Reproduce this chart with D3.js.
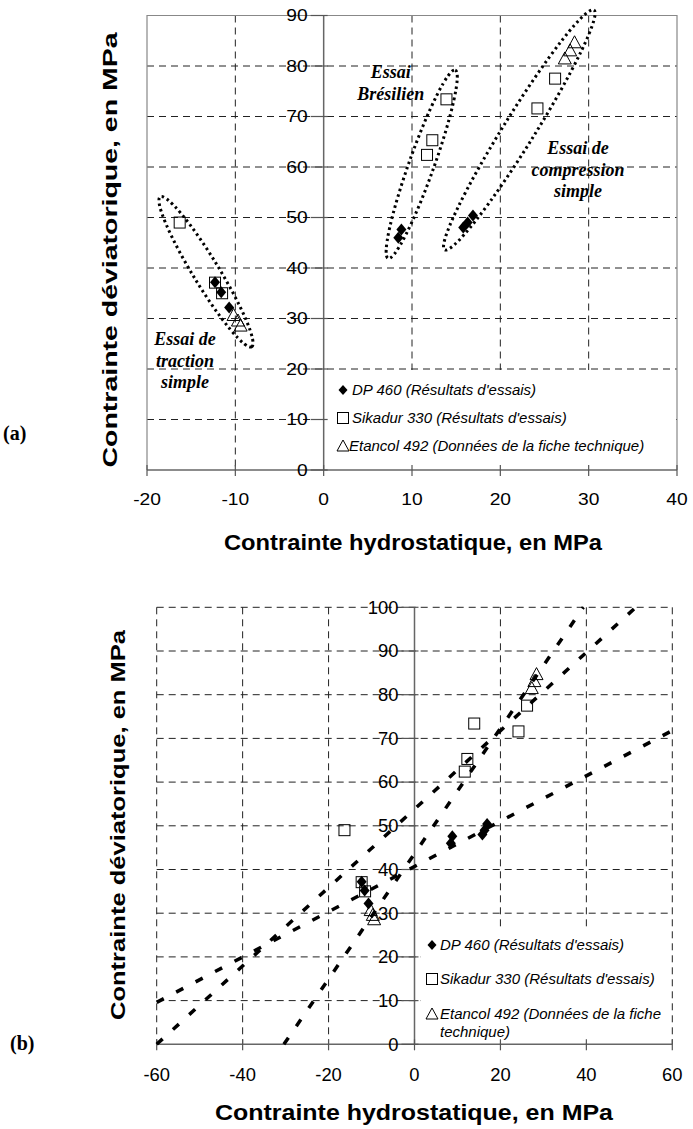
<!DOCTYPE html>
<html><head><meta charset="utf-8">
<script src="https://cdn.jsdelivr.net/npm/d3@7"></script>
<style>body{margin:0;background:#fff} svg{display:block}</style>
</head><body>
<svg id="chart" width="693" height="1129"></svg>
<script>
// ---------- data ----------
const dp460X = [-12.3, -11.6, -10.7, 8.45, 8.8, 15.8, 16.3, 16.9];
const dp460Y = [37.2, 35.2, 32.2, 46.0, 47.6, 48.0, 49.0, 50.4];
const sikaX = [-16.3, -12.3, -11.5, 11.7, 12.3, 13.9, 24.2, 26.2];
const sikaY = [49.0, 37.1, 35.0, 62.4, 65.3, 73.4, 71.6, 77.5];
const etanX = [-10.2, -9.7, -9.4, 27.3, 27.9, 28.4];
const etanY = [30.6, 29.5, 28.5, 81.4, 83.0, 84.6];

const xTicksA = [-20, -10, 0, 10, 20, 30, 40];
const yTicksA = [0, 10, 20, 30, 40, 50, 60, 70, 80, 90];
const xTicksB = [-60, -40, -20, 0, 20, 40, 60];
const yTicksB = [0, 10, 20, 30, 40, 50, 60, 70, 80, 90, 100];

const legendLabels = ["DP 460 (Résultats d'essais)", "Sikadur 330 (Résultats d'essais)", "Etancol 492 (Données de la fiche technique)"];
const xTitle = "Contrainte hydrostatique, en MPa";
const yTitle = "Contrainte déviatorique, en MPa";

// ellipse envelopes of panel (a): tips in data units
const ellipseNames = ["traction", "bresilien", "compression"];
const ellipseTip1 = [[-18.5, 54.1], [7.3, 41.9], [13.7, 43.6]];
const ellipseTip2 = [[-8.15, 24.4], [14.9, 79.2], [30.6, 91.1]];
const annotTexts = [["Essai de", "traction", "simple"], ["Essai", "Brésilien"], ["Essai de", "compression", "simple"]];
const annotPos = [[-15.7, 26.0], [7.6, 78.9], [28.8, 63.8]];

// dashed envelope lines of panel (b)
const lineStartX = [-30.4, -60, -60];
const lineStartY = [0, 0, 9.6];
const lineEndX = [39.3, 51.5, 60];
const lineEndY = [100, 100, 71.8];

// ---------- drawing ----------
const svg = d3.select('#chart');
const FONT = "Arial, 'Liberation Sans', sans-serif";
const SERIF = "'Times New Roman', 'Liberation Serif', serif";

function seriesPts(xs, ys) { return xs.map((x, i) => ({x, y: ys[i]})); }
function stretch(sel, f) {
  if (f === 1) return;
  sel.each(function() { const w = this.getComputedTextLength();
    d3.select(this).attr('textLength', w * f).attr('lengthAdjust', 'spacingAndGlyphs'); });
}

function drawMarkers(g, x, y) {
  const dia = d => { const cx = x(d.x), cy = y(d.y);
    return `M${cx},${cy-6}L${cx+5},${cy}L${cx},${cy+6}L${cx-5},${cy}Z`; };
  g.selectAll('.dp').data(seriesPts(dp460X, dp460Y)).join('path')
    .attr('d', dia).attr('fill', '#000');
  g.selectAll('.sk').data(seriesPts(sikaX, sikaY)).join('rect')
    .attr('x', d => x(d.x) - 5.5).attr('y', d => y(d.y) - 5.5)
    .attr('width', 11).attr('height', 11)
    .attr('fill', 'none').attr('stroke', '#000').attr('stroke-width', 1);
  const tri = d => { const cx = x(d.x), cy = y(d.y);
    return `M${cx},${cy-7}L${cx+6.5},${cy+5}L${cx-6.5},${cy+5}Z`; };
  g.selectAll('.et').data(seriesPts(etanX, etanY)).join('path')
    .attr('d', tri).attr('fill', 'none').attr('stroke', '#000').attr('stroke-width', 1);
}

function drawPanel(o) {
  const g = svg.append('g');
  const x = d3.scaleLinear().domain(o.xd).range(o.xr);
  const y = d3.scaleLinear().domain(o.yd).range(o.yr);
  const x0 = x(0), y0 = y(0);
  const dash = '7,5';
  g.selectAll('.hg').data(o.yTicks.filter(v => v !== 0 && (o.dashBorder || v !== o.yd[1]))).join('line')
    .attr('x1', o.xr[0]).attr('x2', o.xr[1]).attr('y1', d => y(d)).attr('y2', d => y(d))
    .attr('stroke', '#222').attr('stroke-width', 1).attr('stroke-dasharray', dash);
  g.selectAll('.vg').data(o.xTicks.filter(v => v !== 0 && (o.dashBorder || (v !== o.xd[0] && v !== o.xd[1])))).join('line')
    .attr('y1', o.yr[1]).attr('y2', o.yr[0]).attr('x1', d => x(d)).attr('x2', d => x(d))
    .attr('stroke', '#222').attr('stroke-width', 1).attr('stroke-dasharray', dash);
  if (!o.dashBorder) {
    g.append('path').attr('d', `M${o.xr[0]},${y0}V${o.yr[1]}H${o.xr[1]}V${y0}`)
      .attr('fill', 'none').attr('stroke', '#888').attr('stroke-width', 1.2);
  }
  g.append('rect').attr('x', o.leg.x).attr('y', o.leg.y).attr('width', o.leg.w).attr('height', o.leg.h).attr('fill', '#fff');
  g.append('line').attr('x1', x0).attr('x2', x0).attr('y1', o.yr[1]).attr('y2', y0).attr('stroke', '#666').attr('stroke-width', 1.5);
  g.append('line').attr('x1', o.xr[0]).attr('x2', o.xr[1]).attr('y1', y0).attr('y2', y0).attr('stroke', '#666').attr('stroke-width', 1.5);
  g.selectAll('.yt').data(o.yTicks).join('line')
    .attr('x1', x0 - 13).attr('x2', x0 + 4).attr('y1', d => y(d)).attr('y2', d => y(d))
    .attr('stroke', '#555').attr('stroke-width', 1.2);
  g.selectAll('.xt').data(o.xTicks).join('line')
    .attr('x1', d => x(d)).attr('x2', d => x(d)).attr('y1', y0 - 5).attr('y2', y0 + 6)
    .attr('stroke', '#555').attr('stroke-width', 1.2);
  const yl = g.selectAll('.yl').data(o.yTicks).join('text')
    .attr('x', x0 - 16).attr('y', d => y(d)).attr('dy', '0.36em')
    .attr('text-anchor', 'end').attr('font-family', FONT).attr('font-size', o.tickFont).text(d => d);
  const xl = g.selectAll('.xl').data(o.xTicks).join('text')
    .attr('x', d => x(d)).attr('y', y0 + o.xLabOff).attr('dy', '0.36em')
    .attr('text-anchor', 'middle').attr('font-family', FONT).attr('font-size', o.tickFont).text(d => d);
  stretch(yl, o.tickStretch); stretch(xl, o.tickStretch);
  g.append('text').attr('x', o.xTitle[0]).attr('y', o.xTitle[1]).attr('dy', '0.36em')
    .attr('text-anchor', 'middle').attr('font-family', FONT).attr('font-weight', 'bold')
    .attr('font-size', 22).attr('textLength', o.xTitle[2]).attr('lengthAdjust', 'spacingAndGlyphs').text(xTitle);
  g.append('text').attr('transform', `translate(${o.yTitle[0]},${o.yTitle[1]}) rotate(-90)`)
    .attr('text-anchor', 'middle').attr('font-family', FONT).attr('font-weight', 'bold')
    .attr('font-size', 21).attr('textLength', o.yTitle[2]).attr('lengthAdjust', 'spacingAndGlyphs').text(yTitle);
  g.append('text').attr('x', o.tag[0]).attr('y', o.tag[1]).attr('font-family', SERIF).attr('font-weight', 'bold')
    .attr('font-size', 20).text(o.tag[2]);
  const lg = g.append('g');
  o.legRows.forEach((ry, i) => {
    const mx = o.leg.mx;
    if (i === 0) lg.append('path').attr('d', `M${mx},${ry-5}L${mx+4.5},${ry}L${mx},${ry+5}L${mx-4.5},${ry}Z`).attr('fill', '#000');
    if (i === 1) lg.append('rect').attr('x', mx - 5.5).attr('y', ry - 5.5).attr('width', 11).attr('height', 11).attr('fill', 'none').attr('stroke', '#000');
    if (i === 2) lg.append('path').attr('d', `M${mx},${ry-6}L${mx+6},${ry+5}L${mx-6},${ry+5}Z`).attr('fill', 'none').attr('stroke', '#000');
  });
  o.legTexts.forEach((t) => {
    lg.append('text').attr('x', o.leg.tx + (t.indent || 0)).attr('y', t.y).attr('dy', '0.36em')
      .attr('font-family', FONT).attr('font-style', 'italic').attr('font-size', 15).text(t.s);
  });
  return {g, x, y};
}

// ---------- panel (a) ----------
const A = drawPanel({
  xd: [-20, 40], xr: [147, 677], yd: [0, 90], yr: [470, 15.5],
  xTicks: xTicksA, yTicks: yTicksA, dashBorder: false, tickFont: 16, tickStretch: 1.2, xLabOff: 29,
  leg: {x: 326, y: 370, w: 350, h: 99, mx: 343, tx: 352},
  legRows: [390, 418, 446],
  legTexts: [{s: legendLabels[0], y: 390}, {s: legendLabels[1], y: 418}, {s: legendLabels[2], y: 446, indent: -3}],
  xTitle: [413, 542, 378], yTitle: [117, 250, 435], tag: [3, 440, '(a)']
});
ellipseNames.forEach((n, i) => {
  const p1 = [A.x(ellipseTip1[i][0]), A.y(ellipseTip1[i][1])];
  const p2 = [A.x(ellipseTip2[i][0]), A.y(ellipseTip2[i][1])];
  const cx = (p1[0] + p2[0]) / 2, cy = (p1[1] + p2[1]) / 2;
  const a = Math.hypot(p2[0] - p1[0], p2[1] - p1[1]) / 2;
  const ang = Math.atan2(p2[1] - p1[1], p2[0] - p1[0]) * 180 / Math.PI;
  const b = [13, 12.5, 15.5][i];
  A.g.append('ellipse').attr('cx', 0).attr('cy', 0).attr('rx', a).attr('ry', b)
    .attr('transform', `translate(${cx},${cy}) rotate(${ang})`)
    .attr('fill', 'none').attr('stroke', '#000').attr('stroke-width', 3).attr('stroke-dasharray', '2.5,3.2');
});
drawMarkers(A.g, A.x, A.y);
annotTexts.forEach((lines, i) => {
  lines.forEach((s, j) => {
    A.g.append('text').attr('x', A.x(annotPos[i][0])).attr('y', A.y(annotPos[i][1]) + j * 21.5)
      .attr('text-anchor', 'middle').attr('dy', '0.36em').attr('font-family', SERIF)
      .attr('font-weight', 'bold').attr('font-style', 'italic').attr('font-size', 18).text(s);
  });
});

// ---------- panel (b) ----------
const B = drawPanel({
  xd: [-60, 60], xr: [156.7, 672.3], yd: [0, 100], yr: [1044.3, 607.3],
  xTicks: xTicksB, yTicks: yTicksB, dashBorder: true, tickFont: 17.5, tickStretch: 1.05, xLabOff: 30,
  leg: {x: 421, y: 930, w: 250, h: 113, mx: 432, tx: 440},
  legRows: [945, 979, 1014],
  legTexts: [{s: legendLabels[0], y: 945}, {s: legendLabels[1], y: 979}, {s: "Etancol 492 (Données de la fiche", y: 1014}, {s: "technique)", y: 1032}],
  xTitle: [414, 1112, 398], yTitle: [125, 825, 390], tag: [10, 1050, '(b)']
});
lineStartX.forEach((sx, i) => {
  B.g.append('line').attr('x1', B.x(sx)).attr('y1', B.y(lineStartY[i]))
    .attr('x2', B.x(lineEndX[i])).attr('y2', B.y(lineEndY[i]))
    .attr('stroke', '#000').attr('stroke-width', 3.5).attr('stroke-dasharray', '8,14');
});
drawMarkers(B.g, B.x, B.y);
</script>
</body></html>
